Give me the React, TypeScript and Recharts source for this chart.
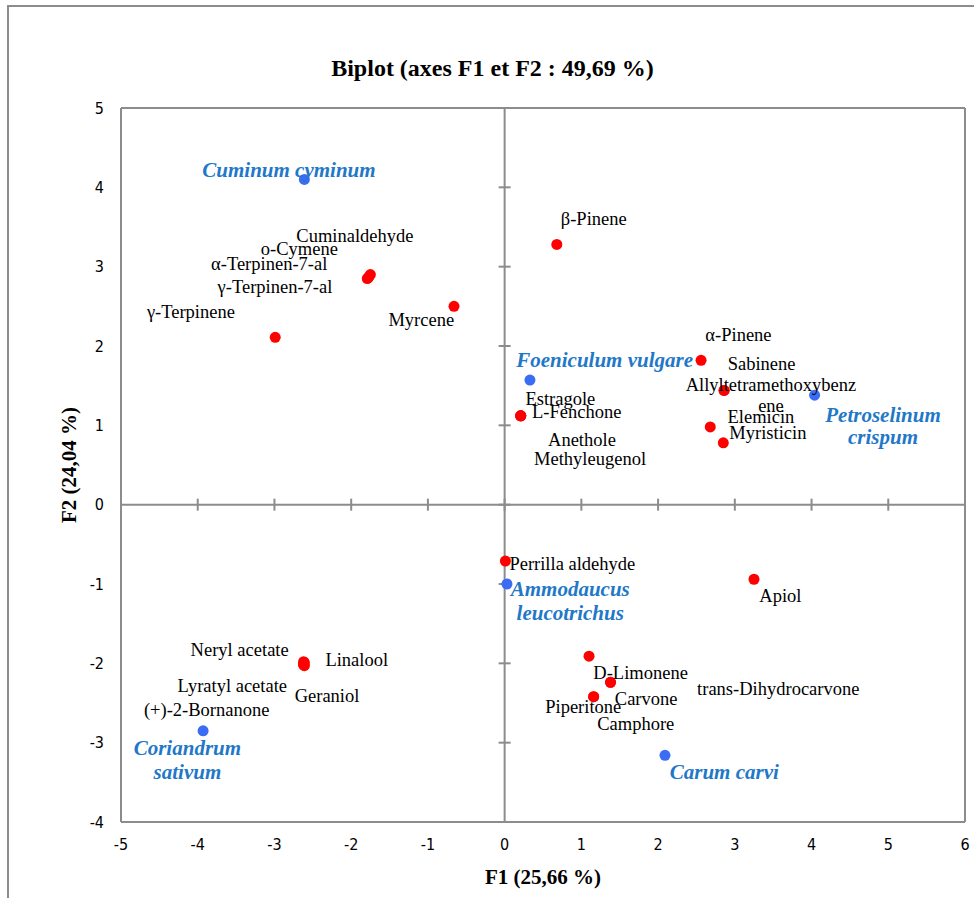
import React from 'react';
import { ScatterChart, Scatter, XAxis, YAxis, ReferenceLine, ReferenceDot, Label } from 'recharts';

// ---------- data ----------
const xTicks = [-5, -4, -3, -2, -1, 0, 1, 2, 3, 4, 5, 6];
const yTicks = [-4, -3, -2, -1, 0, 1, 2, 3, 4, 5];

const variableNames = [
  'Cuminaldehyde', 'o-Cymene', 'α-Terpinen-7-al', 'γ-Terpinen-7-al', 'γ-Terpinene', 'Myrcene',
  'β-Pinene', 'α-Pinene', 'Sabinene', 'Allyltetramethoxybenzene', 'Elemicin', 'Myristicin',
  'Estragole', 'L-Fenchone', 'Anethole', 'Methyleugenol', 'Perrilla aldehyde', 'Apiol',
  'D-Limonene', 'Carvone', 'trans-Dihydrocarvone', 'Piperitone', 'Camphore',
  'Neryl acetate', 'Linalool', 'Lyratyl acetate', 'Geraniol', '(+)-2-Bornanone',
];
const variableF1 = [
  -1.75, -1.77, -1.78, -1.79, -2.99, -0.66,
  0.68, 2.56, 2.86, 2.86, 2.68, 2.85,
  0.21, 0.21, 0.21, 0.21, 0.01, 3.25,
  1.10, 1.38, 1.38, 1.16, 1.16,
  -2.62, -2.61, -2.62, -2.61, -2.62,
];
const variableF2 = [
  2.90, 2.87, 2.86, 2.85, 2.11, 2.50,
  3.28, 1.82, 1.44, 1.44, 0.98, 0.78,
  1.12, 1.12, 1.12, 1.12, -0.71, -0.94,
  -1.91, -2.24, -2.24, -2.42, -2.42,
  -1.98, -1.99, -2.02, -2.03, -2.01,
];

const speciesNames = [
  'Cuminum cyminum', 'Foeniculum vulgare', 'Petroselinum crispum',
  'Ammodaucus leucotrichus', 'Carum carvi', 'Coriandrum sativum',
];
const speciesF1 = [-2.61, 0.33, 4.04, 0.03, 2.09, -3.93];
const speciesF2 = [4.10, 1.57, 1.38, -1.00, -3.16, -2.85];

const variables = variableNames.map((name, i) => ({ name, f1: variableF1[i], f2: variableF2[i] }));
const species = speciesNames.map((name, i) => ({ name, f1: speciesF1[i], f2: speciesF2[i] }));

// ---------- label layout (pixel offsets from each point) ----------
type LabelLayout = { dx: number; dy: number[]; lines?: string[]; anchor?: 'start' | 'middle' | 'end' };

const variableLabelLayout: Record<string, LabelLayout> = {
  'Cuminaldehyde': { dx: -74, dy: [-38.3] },
  'o-Cymene': { dx: -108, dy: [-28] },
  'α-Terpinen-7-al': { dx: -157, dy: [-14] },
  'γ-Terpinen-7-al': { dx: -149.7, dy: [8.3] },
  'γ-Terpinene': { dx: -128.3, dy: [-25.6] },
  'Myrcene': { dx: -65.6, dy: [13.3] },
  'β-Pinene': { dx: 4, dy: [-25.3] },
  'α-Pinene': { dx: 4.3, dy: [-25] },
  'Sabinene': { dx: 3.6, dy: [-26.4] },
  'Allyltetramethoxybenzene': { dx: 46.9, dy: [-5.7, 15.3], lines: ['Allyltetramethoxybenz', 'ene'], anchor: 'middle' },
  'Elemicin': { dx: 17.3, dy: [-10.3] },
  'Myristicin': { dx: 6, dy: [-9.7] },
  'Estragole': { dx: 4.7, dy: [-17] },
  'L-Fenchone': { dx: 11.3, dy: [-4.3] },
  'Anethole': { dx: 27.3, dy: [24] },
  'Methyleugenol': { dx: 13.3, dy: [42.7] },
  'Perrilla aldehyde': { dx: 4, dy: [3.3] },
  'Apiol': { dx: 5.3, dy: [17] },
  'D-Limonene': { dx: 4.3, dy: [17] },
  'Carvone': { dx: 4.3, dy: [16.6] },
  'trans-Dihydrocarvone': { dx: 86.6, dy: [6.6] },
  'Piperitone': { dx: -48.4, dy: [10.4] },
  'Camphore': { dx: 3.6, dy: [27.7] },
  'Neryl acetate': { dx: -113, dy: [-12] },
  'Linalool': { dx: 21, dy: [-2.5] },
  'Lyratyl acetate': { dx: -126, dy: [21] },
  'Geraniol': { dx: -9.7, dy: [30.5] },
  '(+)-2-Bornanone': { dx: -159.7, dy: [46] },
};

const speciesLabelLayout: Record<string, LabelLayout> = {
  'Cuminum cyminum': { dx: -15.4, dy: [-9.3], anchor: 'middle' },
  'Foeniculum vulgare': { dx: 74.7, dy: [-20], anchor: 'middle' },
  'Petroselinum crispum': { dx: 68.4, dy: [20, 42.3], lines: ['Petroselinum', 'crispum'], anchor: 'middle' },
  'Ammodaucus leucotrichus': { dx: 63.3, dy: [4.6, 29], lines: ['Ammodaucus', 'leucotrichus'], anchor: 'middle' },
  'Carum carvi': { dx: 59.3, dy: [16.6], anchor: 'middle' },
  'Coriandrum sativum': { dx: -15.7, dy: [17.3, 41.3], lines: ['Coriandrum', 'sativum'], anchor: 'middle' },
};

// ---------- styles ----------
const SERIF = "'Liberation Serif', 'Times New Roman', serif";
const TICK_FONT = "'Liberation Sans Narrow', 'DejaVu Sans Condensed', 'Liberation Sans', sans-serif";
const GRAY = '#8c8c8c';
const RED = '#ff0000';
const BLUE = '#3b6cf4';
const SPECIES_TEXT = '#1f78c8';

const makeLabelShape = (layout: Record<string, LabelLayout>, textStyle: any) => (props: any) => {
  const { cx, cy, payload } = props;
  const l = layout[payload.name];
  if (!l || cx == null || cy == null) return <g />;
  const lines = l.lines ?? [payload.name];
  return (
    <g>
      {lines.map((t: string, i: number) => (
        <text
          key={i}
          x={cx + l.dx}
          y={cy + l.dy[i]}
          textAnchor={l.anchor ?? 'start'}
          dominantBaseline="central"
          {...textStyle}
        >
          {t}
        </text>
      ))}
    </g>
  );
};

const redDot = (props: any) => <circle cx={props.cx} cy={props.cy} r={5.5} fill={RED} />;
const blueDot = (props: any) => <circle cx={props.cx} cy={props.cy} r={5.5} fill={BLUE} />;

const vTick = (props: any) => (
  <line x1={props.cx} y1={props.cy - 6} x2={props.cx} y2={props.cy + 6} stroke={GRAY} strokeWidth={2} />
);
const hTick = (props: any) => (
  <line x1={props.cx - 6} y1={props.cy} x2={props.cx + 6} y2={props.cy} stroke={GRAY} strokeWidth={2} />
);

const variableLabelShape = makeLabelShape(variableLabelLayout, {
  fontFamily: SERIF, fontSize: 18.5, fill: '#000',
});
const speciesLabelShape = makeLabelShape(speciesLabelLayout, {
  fontFamily: SERIF, fontSize: 21, fontWeight: 'bold', fontStyle: 'italic', fill: SPECIES_TEXT,
});

export default function App() {
  return (
    <div style={{ position: 'absolute', left: 0, top: 0, width: 974, height: 898, background: '#fff', overflow: 'hidden' }}>
      <div
        style={{
          position: 'absolute', left: 7, top: 5, width: 1000, height: 1000,
          borderLeft: `2px solid ${GRAY}`, borderTop: `2px solid ${GRAY}`,
        }}
      />
      <div
        style={{
          position: 'absolute', left: 0, top: 55, width: 985, textAlign: 'center',
          fontFamily: SERIF, fontWeight: 'bold', fontSize: 24, lineHeight: '26px', color: '#000',
        }}
      >
        Biplot (axes F1 et F2 : 49,69 %)
      </div>
      <div style={{ position: 'absolute', left: 0, top: 0 }}>
        <ScatterChart width={974} height={898} margin={{ top: 108, right: 9, bottom: 0, left: 61 }}>
          <XAxis
            type="number"
            dataKey="f1"
            domain={[-5, 6]}
            ticks={xTicks}
            allowDataOverflow
            axisLine={false}
            tickLine={false}
            tickSize={0}
            tickMargin={17}
            height={76}
            interval={0}
            tick={{ fontFamily: TICK_FONT, fontSize: 16, fill: '#000' }}
          >
            <Label
              content={(p: any) => {
                const vb = p.viewBox;
                return (
                  <text x={vb.x + vb.width / 2} y={vb.y + 62} textAnchor="middle"
                    fontFamily={SERIF} fontWeight="bold" fontSize={21} fill="#000">
                    F1 (25,66 %)
                  </text>
                );
              }}
            />
          </XAxis>
          <YAxis
            type="number"
            dataKey="f2"
            domain={[-4, 5]}
            ticks={yTicks}
            allowDataOverflow
            axisLine={false}
            tickLine={false}
            tickSize={0}
            tickMargin={17}
            width={60}
            interval={0}
            tick={{ fontFamily: TICK_FONT, fontSize: 16, fill: '#000' }}
          >
            <Label
              content={(p: any) => {
                const vb = p.viewBox;
                const cx = vb.x + 8;
                const cy = vb.y + vb.height / 2;
                return (
                  <text x={cx} y={cy} textAnchor="middle" dominantBaseline="central"
                    transform={`rotate(-90 ${cx} ${cy})`}
                    fontFamily={SERIF} fontWeight="bold" fontSize={21} fill="#000">
                    F2 (24,04 %)
                  </text>
                );
              }}
            />
          </YAxis>

          <ReferenceLine x={-5} stroke={GRAY} strokeWidth={2} />
          <ReferenceLine x={6} stroke={GRAY} strokeWidth={2} />
          <ReferenceLine y={5} stroke={GRAY} strokeWidth={2} />
          <ReferenceLine y={-4} stroke={GRAY} strokeWidth={2} />
          <ReferenceLine x={0} stroke={GRAY} strokeWidth={2} />
          <ReferenceLine y={0} stroke={GRAY} strokeWidth={2} />
          {xTicks.map((t) => (
            <ReferenceDot key={`xt${t}`} x={t} y={0} r={0} shape={vTick} />
          ))}
          {yTicks.map((t) => (
            <ReferenceDot key={`yt${t}`} x={0} y={t} r={0} shape={hTick} />
          ))}

          <Scatter name="variables" data={variables} shape={redDot} isAnimationActive={false} />
          <Scatter name="species" data={species} shape={blueDot} isAnimationActive={false} />
          <Scatter name="variableLabels" data={variables} shape={variableLabelShape} isAnimationActive={false} />
          <Scatter name="speciesLabels" data={species} shape={speciesLabelShape} isAnimationActive={false} />
        </ScatterChart>
      </div>
    </div>
  );
}
